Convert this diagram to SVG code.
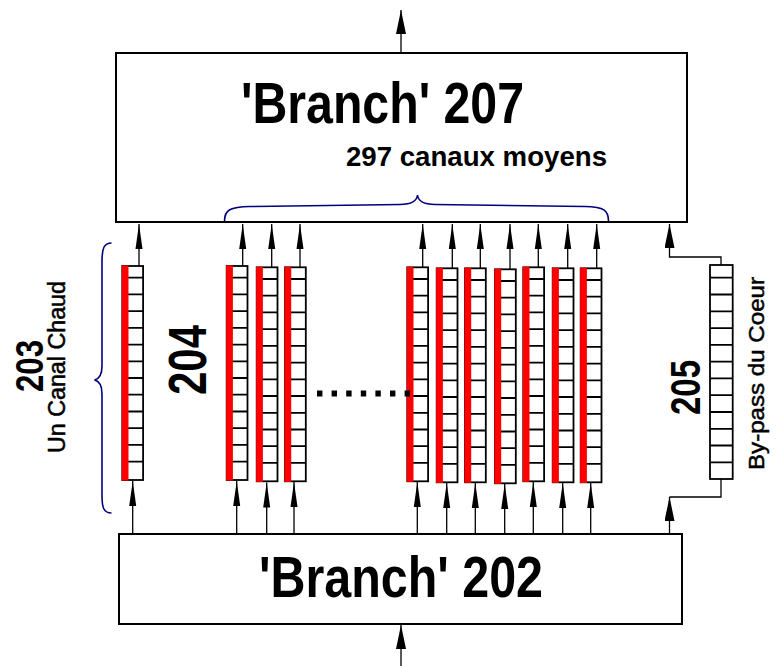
<svg xmlns="http://www.w3.org/2000/svg" width="776" height="666" viewBox="0 0 776 666">
<style>
.box{fill:#fff;stroke:#000;stroke-width:2}
.ln{fill:none;stroke:#000;stroke-width:1.3}
.brace{fill:none;stroke:#00007f;stroke-width:1.6}
.t{font-family:"Liberation Sans",Arial,sans-serif;font-weight:bold;fill:#000}
.tn{font-family:"Liberation Sans",Arial,sans-serif;fill:#000;stroke:#000;stroke-width:0.5}
.cell{fill:#fff;stroke:#000;stroke-width:1.8}
.cl{fill:none;stroke:#000;stroke-width:1.8}
</style>
<defs>
<marker id="a" markerUnits="userSpaceOnUse" markerWidth="25" markerHeight="8" viewBox="0 0 25 8" refX="25" refY="4" orient="auto">
<path d="M0,0.5 L25,4 L0,7.5 z" fill="#000"/>
</marker>
<marker id="b" markerUnits="userSpaceOnUse" markerWidth="24" markerHeight="10" viewBox="0 0 24 10" refX="24" refY="5" orient="auto">
<path d="M0,0 L24,5 L0,10 z" fill="#000"/>
</marker>
<g id="chan">
<rect class="cell" x="0" y="0" width="20.8" height="214"/>
<rect x="-0.6" y="-0.6" width="6.8" height="215.2" fill="#f00"/>
<path class="cl" d="M6,11.7H20.8M6,28.4H20.8M6,45.1H20.8M6,61.9H20.8M6,78.6H20.8M6,95.3H20.8M6,112H20.8M6,128.7H20.8M6,145.5H20.8M6,162.2H20.8M6,178.9H20.8M6,195.6H20.8"/>
</g>
</defs>

<g id="branch207">
<rect class="box" x="116" y="53" width="571" height="169"/>
<text class="t" x="241" y="123" font-size="57" textLength="283" lengthAdjust="spacingAndGlyphs">'Branch' 207</text>
<text class="t" x="346" y="166" font-size="28" textLength="261" lengthAdjust="spacingAndGlyphs">297 canaux moyens</text>
</g>

<g id="branch202">
<rect class="box" x="119" y="534" width="563" height="90"/>
<text class="t" x="259" y="597" font-size="57" textLength="284" lengthAdjust="spacingAndGlyphs">'Branch' 202</text>
</g>

<g id="canal203">
<use href="#chan" x="122.3" y="266"/>
<text class="t" transform="translate(43,392) rotate(-90)" font-size="39" textLength="52" lengthAdjust="spacingAndGlyphs">203</text>
<text class="tn" transform="translate(65,453) rotate(-90)" font-size="23" textLength="172" lengthAdjust="spacingAndGlyphs">Un Canal Chaud</text>
</g>

<g id="canaux204">
<use href="#chan" x="226.7" y="266"/>
<use href="#chan" x="256.7" y="267.3"/>
<use href="#chan" x="285" y="267.3"/>
<use href="#chan" x="407.3" y="267.3"/>
<use href="#chan" x="436.7" y="268.3"/>
<use href="#chan" x="465" y="268.3"/>
<use href="#chan" x="495" y="269.3"/>
<use href="#chan" x="523.3" y="267.3"/>
<use href="#chan" x="552.7" y="268.3"/>
<use href="#chan" x="580.7" y="268.3"/>
<text class="t" transform="translate(206,395) rotate(-90)" font-size="54" textLength="70" lengthAdjust="spacingAndGlyphs">204</text>
<line x1="317" y1="393.5" x2="410" y2="393.5" stroke="#000" stroke-width="6" stroke-dasharray="5.4 9.2"/>
</g>

<g id="bypass205">
<rect class="cell" x="710" y="265" width="22.7" height="214"/>
<path class="cl" d="M710,277.7H732.7M710,294.5H732.7M710,311.3H732.7M710,328.1H732.7M710,344.8H732.7M710,361.6H732.7M710,378.4H732.7M710,395.2H732.7M710,412H732.7M710,428.8H732.7M710,445.5H732.7M710,462.3H732.7"/>
<text class="t" transform="translate(700,415) rotate(-90)" font-size="42" textLength="55" lengthAdjust="spacingAndGlyphs">205</text>
<text class="tn" transform="translate(764,470) rotate(-90)" font-size="22" textLength="193" lengthAdjust="spacingAndGlyphs">By-pass du Coeur</text>
</g>

<g id="braces">
<path class="brace" d="M224.5,221 C224.5,210 230,207 250,206.5 L400,204.5 C412,204.3 417,201 417.5,195 C418,201 423,204.3 435,204.5 L585,206.5 C604,207 608.5,210 608.5,221"/>
<path class="brace" d="M111.5,243 C104,243 102,248 102,262 L102,366 C102,375 99,379 94.5,380 C99,381 102,385 102,394 L102,496 C102,508 104,513 111.5,513"/>
</g>

<g id="connectors">
<line class="ln" x1="401" y1="53" x2="401" y2="10" marker-end="url(#b)"/>
<line class="ln" x1="401" y1="666" x2="401" y2="625" marker-end="url(#b)"/>
<line class="ln" x1="139" y1="266" x2="139" y2="224" marker-end="url(#a)"/>
<line class="ln" x1="242.7" y1="266" x2="242.7" y2="224" marker-end="url(#a)"/>
<line class="ln" x1="271.7" y1="267" x2="271.7" y2="224" marker-end="url(#a)"/>
<line class="ln" x1="300" y1="267" x2="300" y2="224" marker-end="url(#a)"/>
<line class="ln" x1="422.7" y1="267" x2="422.7" y2="224" marker-end="url(#a)"/>
<line class="ln" x1="452.3" y1="268" x2="452.3" y2="224" marker-end="url(#a)"/>
<line class="ln" x1="480.3" y1="268" x2="480.3" y2="224" marker-end="url(#a)"/>
<line class="ln" x1="510" y1="269" x2="510" y2="224" marker-end="url(#a)"/>
<line class="ln" x1="538.3" y1="267" x2="538.3" y2="224" marker-end="url(#a)"/>
<line class="ln" x1="567.7" y1="268" x2="567.7" y2="224" marker-end="url(#a)"/>
<line class="ln" x1="596.7" y1="268" x2="596.7" y2="224" marker-end="url(#a)"/>
<line class="ln" x1="132.7" y1="534" x2="132.7" y2="481" marker-end="url(#a)"/>
<line class="ln" x1="236.7" y1="534" x2="236.7" y2="481" marker-end="url(#a)"/>
<line class="ln" x1="266.7" y1="534" x2="266.7" y2="482.5" marker-end="url(#a)"/>
<line class="ln" x1="294" y1="534" x2="294" y2="482" marker-end="url(#a)"/>
<line class="ln" x1="417.3" y1="534" x2="417.3" y2="482" marker-end="url(#a)"/>
<line class="ln" x1="446.7" y1="534" x2="446.7" y2="483" marker-end="url(#a)"/>
<line class="ln" x1="475.3" y1="534" x2="475.3" y2="483" marker-end="url(#a)"/>
<line class="ln" x1="504.7" y1="534" x2="504.7" y2="484" marker-end="url(#a)"/>
<line class="ln" x1="533.3" y1="534" x2="533.3" y2="482" marker-end="url(#a)"/>
<line class="ln" x1="562.7" y1="534" x2="562.7" y2="483" marker-end="url(#a)"/>
<line class="ln" x1="590.7" y1="534" x2="590.7" y2="483" marker-end="url(#a)"/>
<polyline class="ln" points="721,265 721,257 669.5,257 669.5,224" marker-end="url(#b)"/>
<line class="ln" x1="669.5" y1="534" x2="669.5" y2="497" marker-end="url(#b)"/>
<polyline class="ln" points="669.5,497 721,497 721,479"/>
</g>
</svg>
